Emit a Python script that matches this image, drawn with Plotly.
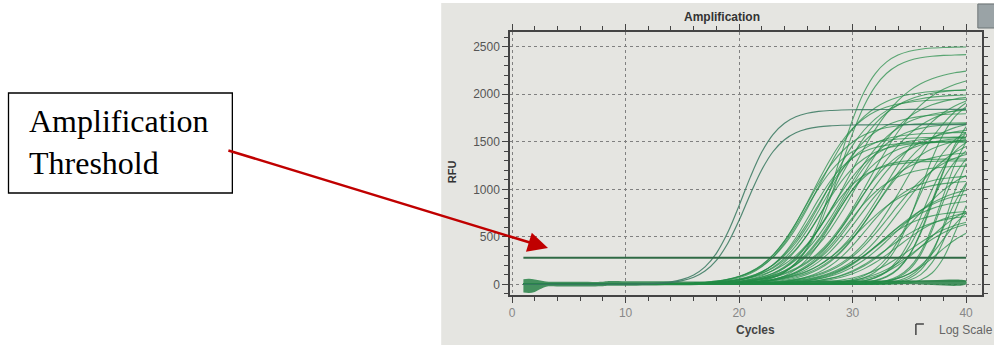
import numpy as np
import plotly.graph_objects as go

# ---------------- data ----------------
cycles = list(range(1, 41))

# early curves (cq midpoint, plateau RFU, slope)
early_mid = [20.3, 20.6]
early_plateau = [1840, 1680]
early_slope = [1.5, 1.5]

# main bundle of amplification curves
main_mid = [28.7, 28.9,
            25.8, 26.0, 26.3, 26.5, 26.8, 27.0, 27.2, 27.4, 27.6, 27.8, 28.0, 28.2,
            28.5, 28.7, 29.0, 29.2, 29.5, 29.7, 30.0, 30.2, 30.5, 30.8, 31.0, 31.2, 31.5, 31.8,
            32.0, 32.3, 32.5, 32.8, 33.0, 33.3, 33.6, 34.0, 34.3, 34.6, 35.0, 35.2,
            35.6, 36.0, 36.3, 36.6, 37.0, 37.3, 37.6, 37.9, 38.2, 38.5, 38.8, 39.2,
            35.5, 36.5, 37.5, 38.0, 30.5, 33.0]
main_plateau = [2500, 2420,
                1550, 1700, 1500, 1950, 1600, 2050, 1500, 1300, 1800, 2000, 1550, 1320,
                2060, 1520, 1700, 1850, 1250, 2280, 1550, 2000, 1400, 1650, 1900, 1150, 2220, 1560,
                780, 1750, 900, 2050, 740, 1450, 1050, 800, 1600, 2150, 720, 1300,
                1700, 2000, 1600, 1550, 1750, 1900, 1500, 1800, 1300, 1600, 1400, 1200,
                700, 900, 650, 950, 1100, 1000]
main_slope = [1.6, 1.7,
              1.9, 2.0, 1.8, 2.1, 2.0, 2.2, 1.9, 1.8, 2.1, 2.2, 2.0, 1.6,
              2.3, 2.0, 2.1, 2.3, 2.0, 2.5, 2.1, 2.4, 2.2, 2.3, 2.5, 2.0, 2.6, 2.2,
              2.0, 2.4, 2.2, 2.6, 2.1, 2.4, 2.3, 2.2, 2.5, 2.6, 2.2, 2.4,
              1.6, 1.5, 1.4, 1.5, 1.3, 1.4, 1.2, 1.3, 1.2, 1.1, 1.1, 1.0,
              2.0, 2.0, 1.6, 1.5, 2.3, 2.4]

# slightly raised negative well
flat_mid = [24.0]
flat_plateau = [35]
flat_slope = [1.0]

# baseline noise band (cycle, upper, lower RFU)
band_cycles = [1, 1.5, 2, 2.5, 3, 4, 6, 8, 8.5, 10, 12, 15, 18, 22, 26, 30, 35, 40]
band_upper = [55, 58, 52, 40, 30, 28, 27, 27, 35, 33, 32, 30, 28, 28, 30, 35, 35, 35]
band_lower = [-85, -90, -80, -50, -25, -22, -22, -20, -15, -15, -12, -10, -8, -5, -5, -5, 0, 0]

threshold_rfu = 280
threshold_cycles = [1, 40]

x_ticks = [0, 10, 20, 30, 40]
y_ticks = [0, 500, 1000, 1500, 2000, 2500]

# ---------------- figure ----------------
fig = go.Figure()
cx = np.array(cycles, dtype=float)


def sig(mid, plat, s):
    return plat / (1.0 + np.exp(-(cx - mid) / s))


fig.add_trace(go.Scatter(
    x=band_cycles + band_cycles[::-1], y=band_upper + band_lower[::-1],
    fill="toself", fillcolor="rgba(40,130,70,0.85)", line=dict(width=0),
    mode="lines", line_shape="spline", hoverinfo="skip", showlegend=False))

for m, p, s in zip(flat_mid, flat_plateau, flat_slope):
    fig.add_trace(go.Scatter(x=cycles, y=sig(m, p, s), mode="lines",
                             line=dict(color="rgba(40,130,70,0.8)", width=1.5),
                             showlegend=False))

for m, p, s in zip(main_mid, main_plateau, main_slope):
    fig.add_trace(go.Scatter(x=cycles, y=sig(m, p, s), mode="lines", line_shape="spline",
                             line=dict(color="rgba(35,140,70,0.72)", width=1.1),
                             showlegend=False))

for m, p, s in zip(early_mid, early_plateau, early_slope):
    fig.add_trace(go.Scatter(x=cycles, y=sig(m, p, s), mode="lines", line_shape="spline",
                             line=dict(color="rgba(55,120,95,0.85)", width=1.2),
                             showlegend=False))

fig.add_trace(go.Scatter(x=threshold_cycles, y=[threshold_rfu] * 2, mode="lines",
                         line=dict(color="#2f6a45", width=2), showlegend=False))

# layout geometry (target plot area in pixels: x 510..982, y 32..295)
W, H = 994, 345
SCALE, OFF = 0.984, 8.0   # observed horizontal mapping of the viewer


def sx(t):
    return (t - OFF) / SCALE


L = int(round(sx(510)))
RIGHT = sx(982)
R = int(round(W - RIGHT))
T, B = 32, 50
pw, ph = W - L - R, H - T - B


def px(xp):
    return (sx(xp) - L) / pw


def py(yp):
    return (H - B - yp) / ph


shapes = [
    # photo background
    dict(type="rect", xref="paper", yref="paper", x0=px(441), x1=px(1000), y0=py(345), y1=py(3),
         fillcolor="#e5e5e1", line=dict(width=0), layer="below"),
    # top-right icon
    dict(type="rect", xref="paper", yref="paper", x0=px(978), x1=px(1000), y0=py(28), y1=py(4),
         fillcolor="#9aa3a6", line=dict(color="#6d7577", width=1)),
    # log scale checkbox (top and left edges dark)
    dict(type="line", xref="paper", yref="paper", x0=px(916), x1=px(924), y0=py(324), y1=py(324),
         line=dict(color="#444", width=1.5)),
    dict(type="line", xref="paper", yref="paper", x0=px(916), x1=px(916), y0=py(324), y1=py(335),
         line=dict(color="#444", width=1.5)),
    # annotation box
    dict(type="rect", xref="paper", yref="paper", x0=px(8), x1=px(232), y0=py(193), y1=py(93),
         fillcolor="white", line=dict(color="black", width=1.3)),
]

sans = "Liberation Sans, Arial"
annotations = [
    dict(text="<b>Amplification</b>", xref="paper", yref="paper", x=px(722), y=py(17),
         xanchor="center", yanchor="middle", showarrow=False,
         font=dict(family=sans, size=12, color="#333")),
    dict(text="<b>Cycles</b>", xref="paper", yref="paper", x=px(756), y=py(330),
         xanchor="center", yanchor="middle", showarrow=False,
         font=dict(family=sans, size=12, color="#444")),
    dict(text="<b>RFU</b>", xref="paper", yref="paper", x=px(452), y=py(172), textangle=-90,
         xanchor="center", yanchor="middle", showarrow=False,
         font=dict(family=sans, size=11, color="#333")),
    dict(text="Log Scale", xref="paper", yref="paper", x=px(937), y=py(330),
         xanchor="left", yanchor="middle", showarrow=False,
         font=dict(family=sans, size=12, color="#666")),
    dict(text="Amplification<br>Threshold", xref="paper", yref="paper", x=px(27), y=py(142),
         xanchor="left", yanchor="middle", align="left", showarrow=False,
         font=dict(family="Liberation Serif, Times New Roman", size=32, color="black")),
    dict(text="", x=(548 - 512) / 11.36, y=(284.3 - 248) / 0.095, xref="x", yref="y",
         ax=(232 - 548) / SCALE, ay=150 - 248, axref="pixel", ayref="pixel",
         showarrow=True, arrowhead=2, arrowsize=1.6, arrowwidth=2.5, arrowcolor="#c00000"),
]

fig.update_layout(
    width=W, height=H, margin=dict(l=L, r=R, t=T, b=B),
    paper_bgcolor="white", plot_bgcolor="#e5e5e1",
    shapes=shapes, annotations=annotations, showlegend=False,
    xaxis=dict(range=[-0.18, 41.4], tickvals=x_ticks, ticktext=[str(v) for v in x_ticks],
               showgrid=True, gridcolor="#808080", griddash="dot", gridwidth=1,
               zeroline=False, showline=True, linecolor="#444", linewidth=1.5, mirror="ticks",
               ticks="outside", ticklen=6, tickcolor="#444",
               minor=dict(dtick=2, ticks="outside", ticklen=4, tickcolor="#444", showgrid=False),
               tickfont=dict(family=sans, size=12, color="#888")),
    yaxis=dict(range=[-112, 2655], tickvals=y_ticks, ticktext=[str(v) for v in y_ticks],
               showgrid=True, gridcolor="#808080", griddash="dot", gridwidth=1,
               zeroline=False, showline=True, linecolor="#444", linewidth=1.5, mirror="ticks",
               ticks="outside", ticklen=6, tickcolor="#444",
               minor=dict(dtick=100, ticks="outside", ticklen=4, tickcolor="#444", showgrid=False),
               tickfont=dict(family=sans, size=12, color="#555")),
)

fig.write_html(
    "out.html",
    config={"displayModeBar": False},
    post_script=("document.documentElement.style.overflow='hidden';"
                 "document.documentElement.style.background="
                 "'linear-gradient(to right, #ffffff 0%, #ffffff 50%, #e5e5e1 50%)';"
                 "document.body.style.margin='0';document.body.style.overflow='hidden';"),
)
